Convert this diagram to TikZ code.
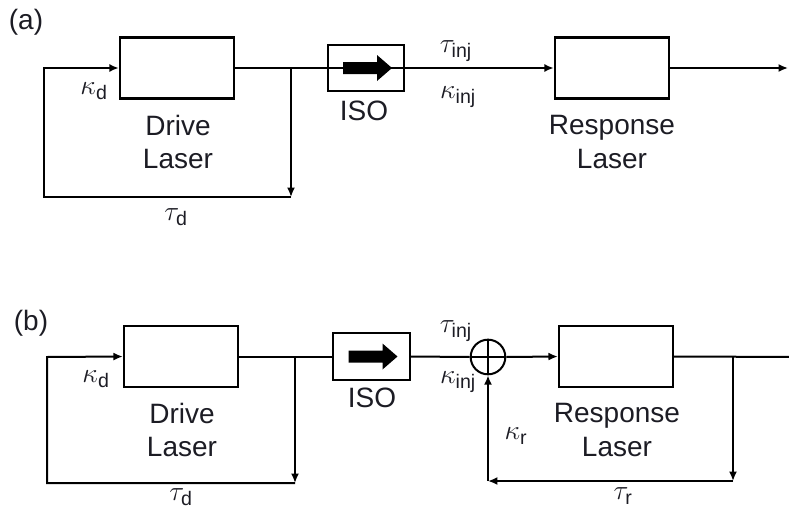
\documentclass[tikz,border=0pt]{standalone}
\usepackage{amsmath}
\usepackage{fontspec}
\setmainfont{Liberation Sans}
\usetikzlibrary{arrows.meta, positioning, calc}
\definecolor{ink}{HTML}{1C1C24}

\tikzset{
  laser/.style={draw, line width=1.8pt, minimum width=85.5pt, minimum height=45.5pt, inner sep=0pt},
  isobox/.style={draw, line width=1.5pt, minimum width=57.5pt, minimum height=35pt, inner sep=0pt},
  summer/.style={draw, circle, line width=1.5pt, minimum size=26pt, inner sep=0pt},
  lbl/.style={text=ink, font=\fontsize{21}{25}\selectfont, align=center},
}

\begin{document}
\begin{tikzpicture}[x=0.75pt, y=-0.75pt, >={Latex[length=7pt, width=6pt]}, line width=1.5pt]

\useasboundingbox (0,0) rectangle (789,514);

% ============================================================
% (a) open loop
% ============================================================
\node[lbl] (tagA) at (26,22) {(a)};

\node[laser] (drvA) at (177,68) {};
\node[isobox] (isoA) at (366,68) {};
\node[laser] (rspA) at (612,68) {};

\coordinate (tapA) at (291,68);
\coordinate (dnA) at (291,197);
\coordinate (cnA) at (44,197);
\coordinate (upA) at (44,68);
\coordinate (outA) at (788,68);

\draw (drvA.east) -- (isoA.west);
\draw[line width=0.8pt] (isoA.west) -- (isoA.east);
\fill (isoA.center) ++(-23,-6) -- ++(34,0) -- ++(0,-7) -- ++(15,13) -- ++(-15,13) -- ++(0,-7) -- ++(-34,0) -- cycle;
\draw[->] (isoA.east) -- (rspA.west);
\draw[->] (rspA.east) -- (outA);
\draw[->] (tapA) -- (dnA);
\draw[->] (dnA) -- (cnA) -- (upA) -- (drvA.west);

\node[lbl] (kdA) at (94,91) {$\kappa_{\text{d}}$};
\node[lbl] (tdA) at (176,217) {$\tau_{\text{d}}$};
\node[lbl] (tiA) at (456,51) {$\tau_{\text{inj}}$};
\node[lbl] (kiA) at (458,97) {$\kappa_{\text{inj}}$};
\node[lbl] (isoAtxt) at (364,111) {ISO};
\node[lbl] (drvAtxt) at (178,142) {Drive\\Laser};
\node[lbl] (rspAtxt) at (612,142) {Response\\Laser};

% ============================================================
% (b) closed loop with feedback on the response
% ============================================================
\node[lbl] (tagB) at (31,323) {(b)};

\node[laser] (drvB) at (181,356.5) {};
\node[isobox] (isoB) at (371.5,356.5) {};
\node[summer] (sumB) at (488,357) {};
\node[laser] (rspB) at (616,356.5) {};

\draw[line width=1.2pt] (sumB.north) -- (sumB.south) (sumB.west) -- (sumB.east);

\coordinate (tapB) at (295,357);
\coordinate (dnB) at (295,483);
\coordinate (cnB) at (47,483);
\coordinate (upB) at (47,357);
\coordinate (tapR) at (733,357);
\coordinate (dnR) at (733,481);
\coordinate (cnR) at (488,481);
\coordinate (outB) at (800,357);

\draw (drvB.east) -- (isoB.west);
\fill (isoB.center) ++(-23,-6) -- ++(34,0) -- ++(0,-7) -- ++(15,13) -- ++(-15,13) -- ++(0,-7) -- ++(-34,0) -- cycle;
\draw (isoB.east) -- (sumB.west);
\draw[->] (sumB.east) -- (rspB.west);
\draw[->] (rspB.east) -- (outB);
\draw[->] (tapB) -- (dnB);
\draw[->] (dnB) -- (cnB) -- (upB) -- (drvB.west);
\draw[->] (tapR) -- (dnR);
\draw[->] (dnR) -- (cnR);
\draw[->] (cnR) -- (sumB.south);

\node[lbl] (kdB) at (96,379) {$\kappa_{\text{d}}$};
\node[lbl] (tdB) at (181,497) {$\tau_{\text{d}}$};
\node[lbl] (tiB) at (456,331) {$\tau_{\text{inj}}$};
\node[lbl] (kiB) at (458,382) {$\kappa_{\text{inj}}$};
\node[lbl] (krB) at (516,436) {$\kappa_{\text{r}}$};
\node[lbl] (trB) at (623,496) {$\tau_{\text{r}}$};
\node[lbl] (isoBtxt) at (372,398) {ISO};
\node[lbl] (drvBtxt) at (182,430) {Drive\\Laser};
\node[lbl] (rspBtxt) at (617,430) {Response\\Laser};

\end{tikzpicture}
\end{document}
